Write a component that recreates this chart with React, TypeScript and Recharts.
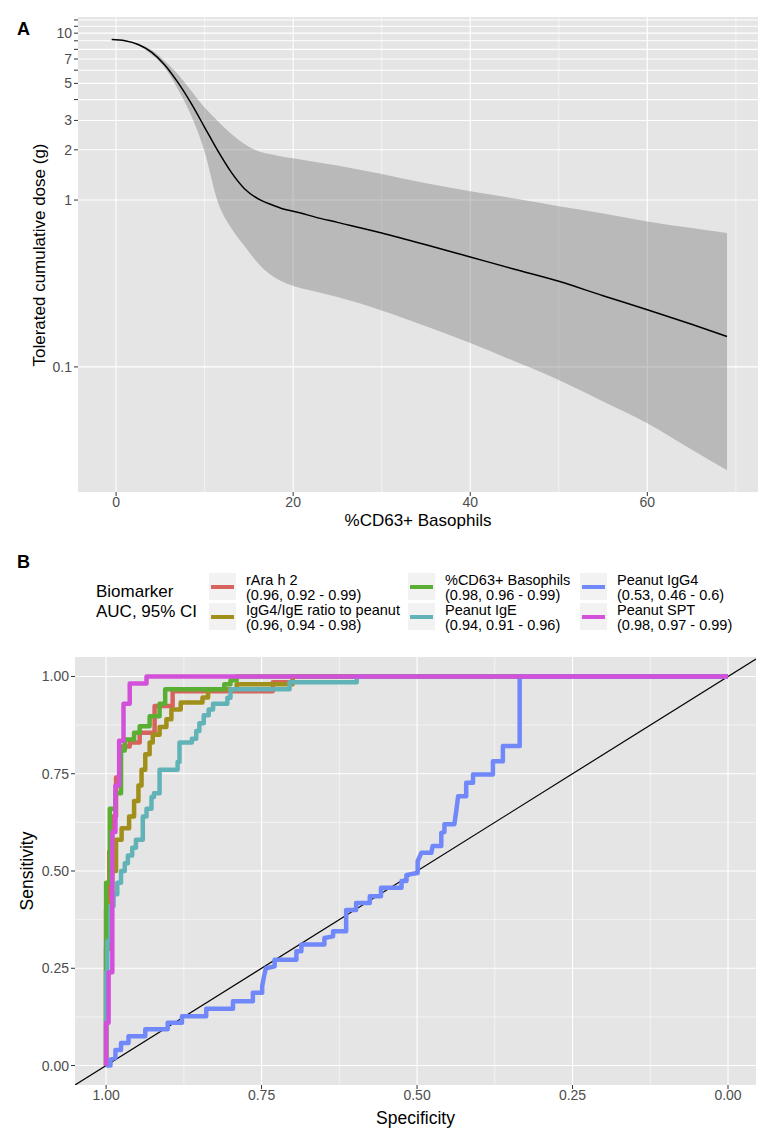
import React from 'react';
import {
  ComposedChart,
  LineChart,
  Line,
  Area,
  XAxis,
  YAxis,
  CartesianGrid,
} from 'recharts';

const FONT = '"Liberation Sans", Arial, Helvetica, sans-serif';
const PANEL_BG = '#e5e5e5';
const TICK_COLOR = '#4d4d4d';

// ---- Panel A: tolerated dose vs %CD63+ basophils ----
const basophilPct = [-0.5, 1, 2.5, 4, 5.5, 7, 8.5, 10, 11.5, 13, 14.5, 16, 17.5, 19, 20.5, 22.5, 25, 30, 35, 40, 45, 50, 55, 60, 65, 69];
const doseFit = [9.15, 9.0, 8.55, 7.7, 6.45, 5.05, 3.78, 2.73, 1.97, 1.47, 1.17, 1.02, 0.94, 0.88, 0.845, 0.79, 0.735, 0.635, 0.54, 0.456, 0.385, 0.326, 0.267, 0.22, 0.18, 0.152];
const doseLower = [9.15, 8.98, 8.45, 7.45, 6.2, 4.6, 3.2, 1.95, 0.97, 0.68, 0.53, 0.42, 0.355, 0.32, 0.3, 0.283, 0.262, 0.218, 0.175, 0.139, 0.108, 0.0835, 0.062, 0.046, 0.032, 0.024];
const doseUpper = [9.15, 9.02, 8.62, 7.95, 6.8, 5.65, 4.5, 3.58, 2.97, 2.5, 2.17, 1.97, 1.88, 1.81, 1.76, 1.69, 1.61, 1.43, 1.26, 1.13, 1.02, 0.917, 0.83, 0.745, 0.68, 0.634];

const doseTicks = [0.1, 1, 2, 3, 4, 5, 6, 7, 8, 9, 10, 11, 12];
const doseLabelled = [0.1, 1, 2, 3, 5, 7, 10];
const pctTicks = [0, 20, 40, 60];
const pctMinor = [10, 30, 50, 70];

const doseData = basophilPct.map((x, i) => ({
  pct: x,
  fit: doseFit[i],
  band: [doseLower[i], doseUpper[i]],
}));

// ---- Panel B: ROC curves (specificity, sensitivity) ----
const biomarkers = ['rAra h 2', 'IgG4/IgE ratio to peanut', '%CD63+ Basophils', 'Peanut IgE', 'Peanut IgG4', 'Peanut SPT'];
const aucText = ['(0.96, 0.92 - 0.99)', '(0.96, 0.94 - 0.98)', '(0.98, 0.96 - 0.99)', '(0.94, 0.91 - 0.96)', '(0.53, 0.46 - 0.6)', '(0.98, 0.97 - 0.99)'];
const rocColors = ['#d6645c', '#a08f1a', '#5aae32', '#62b3b8', '#7088fa', '#d350da'];

const rocAraH2 = [
  [1, 0], [1, 0.4], [0.995, 0.4], [0.995, 0.55], [0.99, 0.55], [0.99, 0.64], [0.984, 0.64], [0.984, 0.74],
  [0.978, 0.74], [0.978, 0.82], [0.962, 0.82], [0.962, 0.83], [0.946, 0.83], [0.946, 0.855], [0.922, 0.855],
  [0.922, 0.924], [0.893, 0.924], [0.893, 0.962], [0.732, 0.962], [0.732, 0.985], [0.7, 0.985], [0.7, 1], [0, 1],
];
const rocRatio = [
  [1, 0], [1, 0.3], [0.995, 0.3], [0.995, 0.42], [0.99, 0.42], [0.99, 0.5], [0.984, 0.5], [0.984, 0.58],
  [0.975, 0.58], [0.975, 0.61], [0.963, 0.61], [0.963, 0.64], [0.955, 0.64], [0.955, 0.68], [0.948, 0.68],
  [0.948, 0.72], [0.943, 0.72], [0.943, 0.76], [0.937, 0.76], [0.937, 0.8], [0.93, 0.8], [0.93, 0.83],
  [0.925, 0.83], [0.925, 0.85], [0.914, 0.85], [0.914, 0.87], [0.903, 0.87], [0.903, 0.89], [0.895, 0.89],
  [0.895, 0.915], [0.88, 0.915], [0.88, 0.933], [0.845, 0.933], [0.845, 0.946], [0.836, 0.946], [0.836, 0.967],
  [0.79, 0.967], [0.79, 0.98], [0.7, 0.98], [0.7, 1], [0, 1],
];
const rocCd63 = [
  [1, 0], [1, 0.47], [0.994, 0.47], [0.994, 0.66], [0.985, 0.66], [0.985, 0.7], [0.976, 0.7], [0.976, 0.81],
  [0.97, 0.81], [0.97, 0.838], [0.955, 0.838], [0.955, 0.855], [0.946, 0.855], [0.946, 0.872], [0.93, 0.872],
  [0.93, 0.898], [0.914, 0.898], [0.914, 0.93], [0.905, 0.93], [0.905, 0.967], [0.81, 0.967], [0.81, 0.98],
  [0.8, 0.98], [0.8, 0.99], [0.79, 0.99], [0.79, 1], [0, 1],
];
const rocIgE = [
  [1, 0], [1, 0.24], [0.998, 0.24], [0.998, 0.32], [0.993, 0.32], [0.993, 0.41], [0.988, 0.41], [0.988, 0.44],
  [0.982, 0.44], [0.982, 0.47], [0.976, 0.47], [0.976, 0.5], [0.97, 0.5], [0.97, 0.52], [0.965, 0.52],
  [0.965, 0.54], [0.958, 0.54], [0.958, 0.56], [0.952, 0.56], [0.952, 0.58], [0.941, 0.58], [0.941, 0.64],
  [0.935, 0.64], [0.935, 0.66], [0.927, 0.66], [0.927, 0.69], [0.923, 0.69], [0.923, 0.7], [0.914, 0.7],
  [0.914, 0.76], [0.885, 0.76], [0.885, 0.78], [0.882, 0.78], [0.882, 0.83], [0.862, 0.83], [0.862, 0.84],
  [0.855, 0.84], [0.855, 0.86], [0.85, 0.86], [0.85, 0.88], [0.843, 0.88], [0.843, 0.9], [0.835, 0.9],
  [0.835, 0.915], [0.828, 0.915], [0.828, 0.93], [0.805, 0.93], [0.805, 0.945], [0.8, 0.945], [0.8, 0.967],
  [0.705, 0.967], [0.705, 0.985], [0.597, 0.985], [0.597, 1], [0, 1],
];
const rocIgG4 = [
  [1, 0], [0.993, 0], [0.993, 0.015], [0.985, 0.02], [0.985, 0.04], [0.976, 0.04], [0.976, 0.058], [0.964, 0.058],
  [0.964, 0.075], [0.937, 0.075], [0.937, 0.093], [0.901, 0.093], [0.901, 0.11], [0.878, 0.11], [0.878, 0.127],
  [0.839, 0.127], [0.839, 0.146], [0.796, 0.146], [0.796, 0.165], [0.764, 0.165], [0.764, 0.187], [0.749, 0.187],
  [0.749, 0.204], [0.746, 0.23], [0.743, 0.25], [0.729, 0.255], [0.729, 0.272], [0.694, 0.272], [0.694, 0.294],
  [0.686, 0.294], [0.686, 0.311], [0.649, 0.311], [0.649, 0.328], [0.635, 0.332], [0.635, 0.345], [0.614, 0.345],
  [0.614, 0.4], [0.598, 0.4], [0.598, 0.418], [0.576, 0.418], [0.576, 0.435], [0.558, 0.435], [0.558, 0.457],
  [0.525, 0.457], [0.525, 0.474], [0.517, 0.474], [0.517, 0.49], [0.499, 0.495], [0.499, 0.525], [0.493, 0.547],
  [0.477, 0.547], [0.475, 0.564], [0.461, 0.564], [0.461, 0.598], [0.456, 0.6], [0.456, 0.62], [0.44, 0.62],
  [0.437, 0.654], [0.434, 0.692], [0.421, 0.692], [0.421, 0.727], [0.41, 0.727], [0.41, 0.748], [0.378, 0.748],
  [0.378, 0.782], [0.362, 0.782], [0.362, 0.821], [0.335, 0.821], [0.335, 1], [0, 1],
];
const rocSpt = [
  [1, 0], [1, 0.11], [0.996, 0.11], [0.996, 0.24], [0.99, 0.24], [0.99, 0.6], [0.985, 0.6], [0.985, 0.72],
  [0.979, 0.72], [0.979, 0.835], [0.972, 0.835], [0.972, 0.93], [0.962, 0.93], [0.962, 0.982], [0.935, 0.982],
  [0.935, 1], [0, 1],
];

const rocCurves = [rocAraH2, rocRatio, rocCd63, rocIgE, rocIgG4, rocSpt].map((pts) =>
  pts.map(([spec, sens]) => ({ spec, sens }))
);

const rocTicks = [0, 0.25, 0.5, 0.75, 1];
const rocMinor = [0.125, 0.375, 0.625, 0.875];
const chanceLine = [{ spec: 1.05, sens: -0.05 }, { spec: -0.045, sens: 1.045 }];

const TICK_SIZE = 14;

function DoseTick({ x, y, payload }: any) {
  if (!doseLabelled.includes(payload.value)) return <g />;
  return (
    <text x={x} y={y} dy={4.8} textAnchor="end" fill={TICK_COLOR} fontSize={TICK_SIZE} fontFamily={FONT}>
      {payload.value}
    </text>
  );
}

const tickStyle = { fill: TICK_COLOR, fontSize: TICK_SIZE, fontFamily: FONT };

function Legend() {
  const cols = [[0, 1], [2, 3], [4, 5]];
  const colX = [209, 408, 580];
  const rowY = [573, 603];
  return (
    <>
      <div style={{ position: 'absolute', left: 96, top: 582, fontSize: 17, lineHeight: '20px', color: '#000' }}>
        Biomarker<br />AUC, 95% CI
      </div>
      {cols.map((col, ci) =>
        col.map((idx, ri) => (
          <React.Fragment key={idx}>
            <div style={{ position: 'absolute', left: colX[ci], top: rowY[ri], width: 27, height: 27, background: '#f2f2f2' }}>
              <div style={{ position: 'absolute', left: 2, top: 11.5, width: 23, height: 4.5, background: rocColors[idx] }} />
            </div>
            <div style={{ position: 'absolute', left: colX[ci] + 37, top: rowY[ri] - 0.5, fontSize: 14.5, lineHeight: '15px', whiteSpace: 'nowrap', color: '#000' }}>
              {biomarkers[idx]}<br />{aucText[idx]}
            </div>
          </React.Fragment>
        ))
      )}
    </>
  );
}

export default function App() {
  return (
    <div style={{ position: 'absolute', left: 0, top: 0, width: 759, height: 1129, background: '#fff', fontFamily: FONT }}>
      <div style={{ position: 'absolute', left: 17, top: 19, fontSize: 18, fontWeight: 'bold' }}>A</div>

      <div style={{ position: 'absolute', left: 0, top: 0 }}>
        <ComposedChart width={759} height={540} data={doseData} margin={{ top: 17, right: 1, bottom: 23, left: 0 }}>
          <CartesianGrid fill={PANEL_BG} stroke="#ffffff" strokeWidth={0.55} horizontal={false} verticalValues={pctMinor} />
          <CartesianGrid stroke="#ffffff" strokeWidth={1.1} horizontalValues={doseTicks} verticalValues={pctTicks} />
          <XAxis
            dataKey="pct"
            type="number"
            domain={[-4.3, 72.5]}
            ticks={pctTicks}
            allowDataOverflow
            height={25}
            axisLine={false}
            tickLine={{ stroke: '#333333' }}
            tickSize={4}
            tickMargin={1}
            tick={tickStyle}
          />
          <YAxis
            type="number"
            scale="log"
            domain={[0.0178, 12.5]}
            ticks={doseTicks}
            allowDataOverflow
            width={78}
            axisLine={false}
            tickLine={{ stroke: '#333333' }}
            tickSize={4}
            tick={<DoseTick />}
            interval={0}
          />
          <Area
            dataKey="band"
            type="monotone"
            fill="#777777"
            fillOpacity={0.4}
            stroke="none"
            isAnimationActive={false}
          />
          <Line dataKey="fit" type="monotone" stroke="#000000" strokeWidth={1.5} dot={false} activeDot={false} isAnimationActive={false} />
        </ComposedChart>
      </div>

      <div
        style={{
          position: 'absolute', left: 40, top: 254.5, fontSize: 17, whiteSpace: 'nowrap',
          transform: 'translate(-50%, -50%) rotate(-90deg)',
        }}
      >
        Tolerated cumulative dose (g)
      </div>
      <div style={{ position: 'absolute', left: 418, top: 521, fontSize: 17, whiteSpace: 'nowrap', transform: 'translate(-50%, -50%)' }}>
        %CD63+ Basophils
      </div>

      <div style={{ position: 'absolute', left: 17, top: 552, fontSize: 18, fontWeight: 'bold' }}>B</div>
      <Legend />

      <div style={{ position: 'absolute', left: 0, top: 560 }}>
        <LineChart width={759} height={569} margin={{ top: 97, right: 3, bottom: 19, left: 0 }}>
          <CartesianGrid fill={PANEL_BG} stroke="#ffffff" strokeWidth={0.55} horizontalValues={rocMinor} verticalValues={rocMinor} />
          <CartesianGrid stroke="#ffffff" strokeWidth={1.1} horizontalValues={rocTicks} verticalValues={rocTicks} />
          <XAxis
            dataKey="spec"
            type="number"
            domain={[-0.045, 1.05]}
            reversed
            ticks={rocTicks}
            allowDataOverflow
            height={25}
            axisLine={false}
            tickLine={{ stroke: '#333333' }}
            tickSize={4}
            tickMargin={1}
            tick={tickStyle}
            tickFormatter={(v: number) => v.toFixed(2)}
          />
          <YAxis
            dataKey="sens"
            type="number"
            domain={[-0.05, 1.05]}
            ticks={rocTicks}
            allowDataOverflow
            width={75}
            axisLine={false}
            tickLine={{ stroke: '#333333' }}
            tickSize={4}
            tick={tickStyle}
            tickFormatter={(v: number) => v.toFixed(2)}
          />
          <Line data={chanceLine} dataKey="sens" type="linear" stroke="#000000" strokeWidth={1.2} dot={false} activeDot={false} isAnimationActive={false} />
          {rocCurves.map((pts, i) => (
            <Line
              key={biomarkers[i]}
              data={pts}
              dataKey="sens"
              name={biomarkers[i]}
              type="linear"
              stroke={rocColors[i]}
              strokeWidth={4.5}
              strokeLinejoin="round"
              dot={false}
              activeDot={false}
              isAnimationActive={false}
            />
          ))}
        </LineChart>
      </div>

      <div
        style={{
          position: 'absolute', left: 27, top: 871, fontSize: 17.5, whiteSpace: 'nowrap',
          transform: 'translate(-50%, -50%) rotate(-90deg)',
        }}
      >
        Sensitivity
      </div>
      <div style={{ position: 'absolute', left: 415.5, top: 1118, fontSize: 17.5, whiteSpace: 'nowrap', transform: 'translate(-50%, -50%)' }}>
        Specificity
      </div>
    </div>
  );
}
